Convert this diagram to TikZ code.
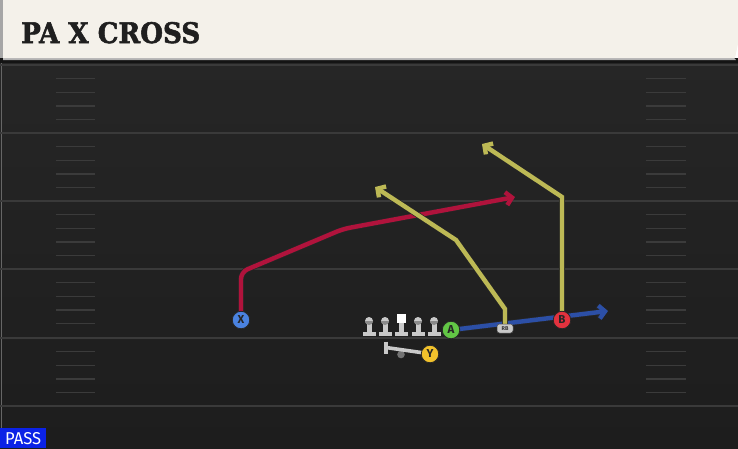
\documentclass[tikz,border=0pt]{standalone}
\usepackage{fontspec}
\setmainfont{Fira Sans}
\newfontfamily\titlefont{DejaVu Serif}[BoldFeatures={FakeBold=2}]
\usetikzlibrary{arrows.meta}
\definecolor{titlebg}{HTML}{F4F1EA}
\definecolor{fieldtop}{HTML}{262626}
\definecolor{fieldbot}{HTML}{1D1D1D}
\definecolor{fline}{HTML}{3A3A3A}
\definecolor{hashc}{HTML}{3B3B3B}
\definecolor{redr}{HTML}{B0133C}
\definecolor{yelr}{HTML}{BDB955}
\definecolor{bluer}{HTML}{2C4FA6}
\definecolor{xcol}{HTML}{4A82E0}
\definecolor{acol}{HTML}{62C645}
\definecolor{bcol}{HTML}{E2323E}
\definecolor{ycol}{HTML}{F2C22C}
\definecolor{lmcol}{HTML}{C9C9C9}
\definecolor{lmdark}{HTML}{8A8A8A}
\definecolor{passblue}{HTML}{0B22E6}
\tikzset{
  fieldln/.style={draw=fline, line width=1.6pt},
  hashln/.style={draw=hashc, line width=1.6pt},
  route/.style={line width=4.4pt, line join=miter, preaction={draw=black!85, line width=5.8pt}},
  tip/.style={-{Straight Barb[length=6pt,width=13pt]}},
  player/.style={circle, draw=black!85, line width=0.8pt, minimum size=17.5pt, inner sep=0pt,
    font=\bfseries\fontsize{11.5}{11.5}\selectfont, text=black!85},
  rbtag/.style={rectangle, rounded corners=2.5pt, fill=lmcol, draw=black!70, line width=0.5pt,
    minimum width=16pt, minimum height=9pt, inner sep=0pt, font=\bfseries\fontsize{5.5}{5.5}\selectfont, text=black!80},
  lineman/.pic={
    \fill[lmcol] (-6.5,-4.5) rectangle (6.5,0);
    \fill[lmcol] (-2.5,-13) rectangle (2.5,-4);
    \fill[lmcol] (0,-15) circle (4);
    \fill[lmdark] (-4,-15) arc (180:0:4) -- cycle;
  },
  centerman/.pic={
    \fill[lmcol] (-6.5,-4.5) rectangle (6.5,0);
    \fill[lmcol] (-2.5,-14) rectangle (2.5,-4);
    \fill[white] (-4.5,-22.5) rectangle (4.5,-13.5);
  }
}
\begin{document}
\begin{tikzpicture}[x=1pt,y=-1pt]
\useasboundingbox (0,0) rectangle (738,448);
% field
\fill[top color=fieldtop, bottom color=fieldbot] (0,58) rectangle (738,448);
\fill[black!92] (0,58) rectangle (738,63);
\draw[draw=black!60, line width=0.8pt] (1,63) -- (1,448);
\foreach \yy in {65,133,201,269,338,406} { \draw[fieldln] (0,\yy) -- (738,\yy); }
\foreach \yy in {65,133,201,269,338} {
  \foreach \k in {1,2,3,4} {
    \draw[hashln] (56,\yy+13.65*\k) -- (95,\yy+13.65*\k);
    \draw[hashln] (646,\yy+13.65*\k) -- (686,\yy+13.65*\k);
  }
}
% title bar
\fill[black!30] (3,58) -- (734,58) -- (736,60) -- (3,60) -- cycle;
\fill[titlebg] (3,0) -- (738,0) -- (738,44) -- (735,58) -- (3,58) -- cycle;
\fill[black!35] (0,0) rectangle (3,58);
\node[anchor=base west, inner sep=0pt, text=black!88] (title) at (21,43)
  {\resizebox{179pt}{21pt}{\titlefont\bfseries PA X CROSS}};
% coordinates
\coordinate (xa) at (241,272);
\coordinate (xb) at (343,229);
\coordinate (xend) at (515,197);
\coordinate (ra) at (505,309);
\coordinate (rb) at (456,240);
\coordinate (rend) at (375,187);
\coordinate (ba) at (562,197);
\coordinate (bend) at (482,144);
\coordinate (aend) at (608,311);
% player positions (named)
\coordinate (Xp) at (241,320);
\coordinate (Ap) at (451,330);
\coordinate (Bp) at (562,320);
\coordinate (RBp) at (505,328.5);
% routes
\draw[route, tip, bluer] (Ap) -- (aend);
\draw[route, tip, redr, rounded corners=7pt] (Xp) -- (xa) -- (xb) -- (xend);
\draw[route, tip, yelr] (Bp) -- (ba) -- (bend);
\draw[route, tip, yelr] (RBp) -- (ra) -- (rb) -- (rend);
% line
\pic at (369,336) {lineman};
\pic at (385,336) {lineman};
\pic at (401,336) {centerman};
\pic at (418,336) {lineman};
\pic at (434,336) {lineman};
% Y blocking shape
\fill[black!55] (401,354.5) circle (3.8);
\draw[lmcol, line width=3.6pt] (386,341.5) -- (386,354);
\draw[lmcol, line width=3.6pt] (386,347.5) -- (428,353.5);
% players
\node[player, fill=xcol] (X) at (Xp) {X};
\node[player, fill=acol] (A) at (Ap) {A};
\node[player, fill=bcol] (B) at (Bp) {B};
\node[player, fill=ycol] (Y) at (430,354) {Y};
\node[rbtag] (RB) at (RBp) {RB};
% PASS tag
\fill[passblue] (0,428) rectangle (46,448);
\node[anchor=base west, inner sep=0pt, text=white] (pass) at (5,444)
  {\resizebox{36pt}{12pt}{PASS}};
\end{tikzpicture}
\end{document}
